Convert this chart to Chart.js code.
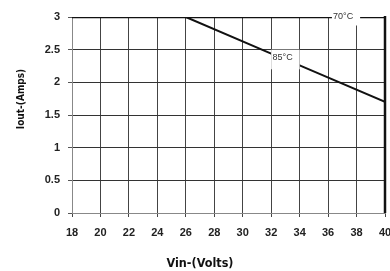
<!DOCTYPE html>
<html>
<head>
<meta charset="utf-8">
<script src="https://cdn.jsdelivr.net/npm/chart.js@4"></script>
<style>
  html, body { margin: 0; padding: 0; background: #fff; }
  #wrap { width: 390px; height: 271px; }
</style>
</head>
<body>
<div id="wrap"><canvas id="deratingChart" width="390" height="271"></canvas></div>
<script>
const vinTicks = [18, 20, 22, 24, 26, 28, 30, 32, 34, 36, 38, 40];
const ioutTicks = [0, 0.5, 1, 1.5, 2, 2.5, 3];

const vin70 = [18, 40];
const iout70 = [3, 3];
const vin85 = [18, 26, 32, 34, 40];
const iout85 = [3, 3, 2.44, 2.26, 1.7];

const curveLabels = [
  { text: "70\u00b0C", x: 36.35, y: 3, box: [-0.08, 1.9, 0.15, 0.13] },
  { text: "85\u00b0C", x: 32.1, y: 2.38, box: [-0.1, 1.9, 0.12, 0.18] }
];

const font = "'Liberation Sans', Arial, sans-serif";
const narrow = "'Liberation Sans Narrow', 'Arial Narrow', 'DejaVu Sans Condensed', sans-serif";
const ctx = document.getElementById("deratingChart").getContext("2d");

// white patches with the curve name over the line, plus the heavy right edge
const labelPlugin = {
  id: "curveLabels",
  afterDatasetsDraw(chart) {
    const c = chart.ctx;
    const xs = chart.scales.x;
    const ys = chart.scales.y;
    const area = chart.chartArea;
    c.save();
    c.strokeStyle = "#111";
    c.lineWidth = 2.5;
    c.beginPath();
    c.moveTo(area.right, area.top - 1);
    c.lineTo(area.right, area.bottom);
    c.stroke();
    curveLabels.forEach(l => {
      const px = xs.getPixelForValue(l.x);
      const py = ys.getPixelForValue(l.y);
      const x0 = xs.getPixelForValue(l.x + l.box[0]);
      const x1 = xs.getPixelForValue(l.x + l.box[1]);
      const y0 = ys.getPixelForValue(l.y + l.box[2]);
      const y1 = ys.getPixelForValue(l.y - l.box[3]);
      c.fillStyle = "#fff";
      c.fillRect(x0, y0, x1 - x0, y1 - y0);
      c.fillStyle = "#333";
      c.font = "9px " + font;
      c.textAlign = "left";
      c.textBaseline = "middle";
      c.fillText(l.text, px, py);
    });
    c.restore();
  },
  afterDraw(chart) {
    const c = chart.ctx;
    c.save();
    c.fillStyle = "#111";
    c.font = "bold 12.5px " + narrow;
    c.textAlign = "center";
    c.textBaseline = "middle";
    c.fillText("Vin-(Volts)", 200, 264);
    c.translate(21, 99);
    c.rotate(-Math.PI / 2);
    c.font = "bold 10px " + narrow;
    c.fillText("Iout-(Amps)", 0, 0);
    c.restore();
  }
};

new Chart(ctx, {
  type: "line",
  data: {
    datasets: [
      {
        label: "70\u00b0C",
        data: vin70.map((v, i) => ({ x: v, y: iout70[i] })),
        borderColor: "#111",
        borderWidth: 2.5,
        pointRadius: 0,
        fill: false
      },
      {
        label: "85\u00b0C",
        data: vin85.map((v, i) => ({ x: v, y: iout85[i] })),
        borderColor: "#111",
        borderWidth: 2,
        pointRadius: 0,
        fill: false
      }
    ]
  },
  options: {
    responsive: false,
    animation: false,
    layout: { padding: { left: 0, right: 5, top: 17, bottom: 0 } },
    plugins: {
      legend: { display: false },
      tooltip: { enabled: false }
    },
    scales: {
      x: {
        type: "linear",
        min: 18,
        max: 40,
        afterBuildTicks: s => { s.ticks = vinTicks.map(v => ({ value: v })); },
        afterFit: s => { s.height = 58; s.paddingLeft = 0; s.paddingRight = 0; },
        ticks: {
          color: "#222",
          padding: 9,
          callback: v => String(v),
          font: { family: font, size: 11, weight: "bold" }
        },
        grid: { color: "#444", lineWidth: 1, tickLength: 4, tickColor: "#444" },
        border: { color: "#888", width: 1 }
      },
      y: {
        min: 0,
        max: 3,
        afterBuildTicks: s => { s.ticks = ioutTicks.map(v => ({ value: v })); },
        afterFit: s => { s.width = 72; s.paddingTop = 0; s.paddingBottom = 0; },
        ticks: {
          color: "#222",
          padding: 8,
          callback: v => String(v),
          font: { family: font, size: 11, weight: "bold" }
        },
        grid: { color: "#333", lineWidth: 1, tickLength: 4, tickColor: "#555" },
        border: { color: "#888", width: 1 }
      }
    }
  },
  plugins: [labelPlugin]
});
</script>
</body>
</html>
